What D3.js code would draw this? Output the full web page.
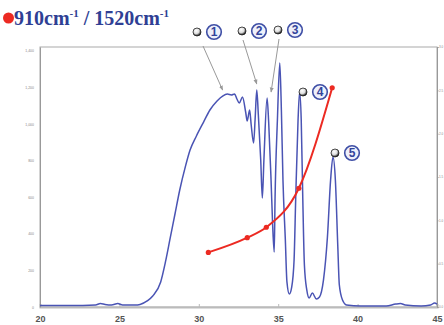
<!DOCTYPE html>
<html>
<head>
<meta charset="utf-8">
<script src="https://cdn.jsdelivr.net/npm/d3@7"></script>
<style>
  html, body { margin: 0; padding: 0; background: #fff; }
  svg { display: block; }
</style>
</head>
<body>
<div id="chart"></div>
<script>
// spectrum (blue): wavenumber-ish x, intensity y (left axis)
const specX = [20.0, 21.9, 23.5, 23.8, 24.1, 24.5, 24.9, 25.2, 26.0, 26.3, 26.75, 27.1, 27.6, 27.9, 28.2, 28.5, 28.8, 29.15, 29.45, 29.85,
  30.3, 30.7, 31.15, 31.5, 31.8, 32.05, 32.25, 32.4, 32.55, 32.75, 32.95, 33.05, 33.2, 33.3, 33.45, 33.55, 33.65, 33.75, 33.9, 34.0,
  34.1, 34.3, 34.4, 34.55, 34.65, 34.75, 34.8, 34.95, 35.1, 35.2, 35.3, 35.45, 35.55, 35.7, 35.85, 36.0, 36.1, 36.25, 36.35, 36.45,
  36.55, 36.65, 36.8, 36.95, 37.15, 37.4, 37.6, 37.85, 38.1, 38.3, 38.45, 38.6, 38.75, 38.85, 39.05, 39.3, 40.2, 41.8, 42.4, 42.7,
  43.0, 44.0, 44.6, 44.85, 45.0];
const specY = [8, 8, 11, 19, 14, 11, 19, 11, 11, 14, 33, 60, 137, 246, 377, 508, 639, 765, 857, 934,
  1010, 1076, 1125, 1152, 1163, 1158, 1163, 1136, 1114, 1147, 1065, 1016, 1076, 994, 896, 1032, 1185, 1049, 803, 595,
  803, 1141, 1010, 694, 448, 300, 584, 1021, 1333, 1076, 694, 366, 137, 71, 109, 257, 584, 1021, 1174, 1021,
  584, 229, 93, 49, 76, 44, 55, 147, 382, 694, 819, 694, 339, 120, 38, 11, 5, 5, 16, 19,
  11, 5, 11, 22, 16];

// 910/1520 ratio (red, right axis)
const ratioX = [30.6, 33.05, 34.25, 36.3, 38.4];
const ratioY = [0.63, 0.80, 0.92, 1.37, 2.53];

const xTicks = [20, 25, 30, 35, 40, 45];
const leftTicks = [0, 200, 400, 600, 800, 1000, 1200, 1400];
const rightTicks = [0, 0.5, 1, 1.5, 2, 2.5, 3];

// peak labels: label number, peak x, peak y (left axis)
const peakNums = [1, 2, 3, 4, 5];
const peakX = [31.5, 33.65, 34.3, 36.35, 38.45];
const peakY = [1152, 1185, 1141, 1174, 819];

const W = 444, H = 325;
const m = {left: 40, right: 7, top: 47, bottom: 18};

const svg = d3.select("#chart").append("svg")
  .attr("width", W).attr("height", H);

svg.append("rect").attr("width", W).attr("height", H).attr("fill", "#fff");

const x = d3.scaleLinear().domain([20, 45]).range([m.left, W - m.right]);
const y = d3.scaleLinear().domain([0, 1420]).range([H - m.bottom, m.top]);
const y2 = d3.scaleLinear().domain([0, 3]).range([H - m.bottom, m.top]);

const defs = svg.append("defs");
const grad = defs.append("radialGradient").attr("id", "ball")
  .attr("cx", "40%").attr("cy", "35%").attr("r", "65%");
grad.append("stop").attr("offset", "0%").attr("stop-color", "#fff");
grad.append("stop").attr("offset", "55%").attr("stop-color", "#ddd");
grad.append("stop").attr("offset", "100%").attr("stop-color", "#111");

defs.append("marker").attr("id", "arr")
  .attr("viewBox", "0 0 10 10").attr("refX", 9).attr("refY", 5)
  .attr("markerWidth", 5).attr("markerHeight", 5).attr("orient", "auto")
  .append("path").attr("d", "M0,1L10,5L0,9z").attr("fill", "#999");

// frame
svg.append("rect")
  .attr("x", m.left).attr("y", m.top)
  .attr("width", W - m.right - m.left).attr("height", H - m.bottom - m.top)
  .attr("fill", "none").attr("stroke", "#aaa").attr("stroke-width", 1);

// bottom axis
const xAxis = svg.append("g")
  .attr("transform", `translate(0,${H - m.bottom})`)
  .call(d3.axisBottom(x).tickValues(xTicks).tickSize(-3).tickPadding(9).tickFormat(d3.format("d")));
xAxis.select(".domain").attr("stroke", "#bbb").attr("stroke-width", 2);
xAxis.selectAll(".tick line").attr("stroke", "#bbb");
xAxis.selectAll("text")
  .attr("font-family", "Liberation Sans, Arial, sans-serif")
  .attr("font-size", 9).attr("font-weight", "bold").attr("fill", "#555");

// left axis labels (tiny)
const yAxis = svg.append("g")
  .attr("transform", `translate(${m.left},0)`)
  .call(d3.axisLeft(y).tickValues(leftTicks).tickSize(0).tickPadding(6));
yAxis.select(".domain").attr("stroke", "#999");
yAxis.selectAll("text")
  .attr("font-family", "Liberation Sans, Arial, sans-serif")
  .attr("font-size", 3.5).attr("fill", "#888");

// right axis
const yAxis2 = svg.append("g")
  .attr("transform", `translate(${W - m.right},0)`)
  .call(d3.axisRight(y2).tickValues(rightTicks).tickSize(1.5).tickPadding(0.5));
yAxis2.select(".domain").attr("stroke", "#999");
yAxis2.selectAll(".tick line").attr("stroke", "#999");
yAxis2.selectAll("text")
  .attr("font-family", "Liberation Sans, Arial, sans-serif")
  .attr("font-size", 3).attr("fill", "#888");

// spectrum
const spec = specX.map((d, i) => [d, specY[i]]);
svg.append("path")
  .datum(spec)
  .attr("fill", "none")
  .attr("stroke", "#4a54b4")
  .attr("stroke-width", 1.5)
  .attr("stroke-linejoin", "round")
  .attr("d", d3.line().x(d => x(d[0])).y(d => y(d[1])).curve(d3.curveMonotoneX));

// ratio line
const ratio = ratioX.map((d, i) => [d, ratioY[i]]);
svg.append("path")
  .datum(ratio)
  .attr("fill", "none")
  .attr("stroke", "#ec2a22")
  .attr("stroke-width", 2)
  .attr("d", d3.line().x(d => x(d[0])).y(d => y2(d[1])).curve(d3.curveMonotoneX));
svg.selectAll("circle.pt")
  .data(ratio)
  .join("circle")
  .attr("class", "pt")
  .attr("cx", d => x(d[0])).attr("cy", d => y2(d[1]))
  .attr("r", 2.6).attr("fill", "#ec2a22");

// peak labels
const labelPos = [[197, 32], [242, 31], [278, 30], [303, 92], [335, 153]];
peakNums.forEach((n, i) => {
  const [bx, by] = labelPos[i];
  if (n <= 3) {
    const tx = x(peakX[i]) + (n === 3 ? 4 : 0);
    const ty = y(peakY[i]) - 6;
    svg.append("line")
      .attr("x1", bx + (n === 1 ? 6 : 1)).attr("y1", by + (n === 1 ? 14 : 9))
      .attr("x2", tx).attr("y2", ty)
      .attr("stroke", "#999").attr("stroke-width", 1)
      .attr("marker-end", "url(#arr)");
  }
  svg.append("circle")
    .attr("cx", bx).attr("cy", by).attr("r", 4)
    .attr("fill", "url(#ball)").attr("stroke", "#222").attr("stroke-width", 0.8);
  svg.append("circle")
    .attr("cx", bx + 17).attr("cy", by).attr("r", 7.3)
    .attr("fill", "#eef0fa").attr("stroke", "#3f4fa6").attr("stroke-width", 1.6);
  svg.append("text")
    .attr("x", bx + 17).attr("y", by + 4.2)
    .attr("text-anchor", "middle")
    .attr("font-family", "Liberation Sans, Arial, sans-serif")
    .attr("font-weight", "bold").attr("font-size", 12)
    .attr("fill", "#33449c")
    .text(n);
});

// title
svg.append("circle").attr("cx", 8.5).attr("cy", 18).attr("r", 5.5).attr("fill", "#ec2a22");
const title = svg.append("text")
  .attr("x", 14).attr("y", 24.5)
  .attr("font-family", "Liberation Serif, Times New Roman, serif")
  .attr("font-weight", "bold").attr("font-size", 20)
  .attr("fill", "#2f3f94");
title.append("tspan").text("910cm");
title.append("tspan").attr("dy", -8).attr("font-size", 11).text("-1");
title.append("tspan").attr("dy", 8).text(" / 1520cm");
title.append("tspan").attr("dy", -8).attr("font-size", 11).text("-1");
</script>
</body>
</html>
